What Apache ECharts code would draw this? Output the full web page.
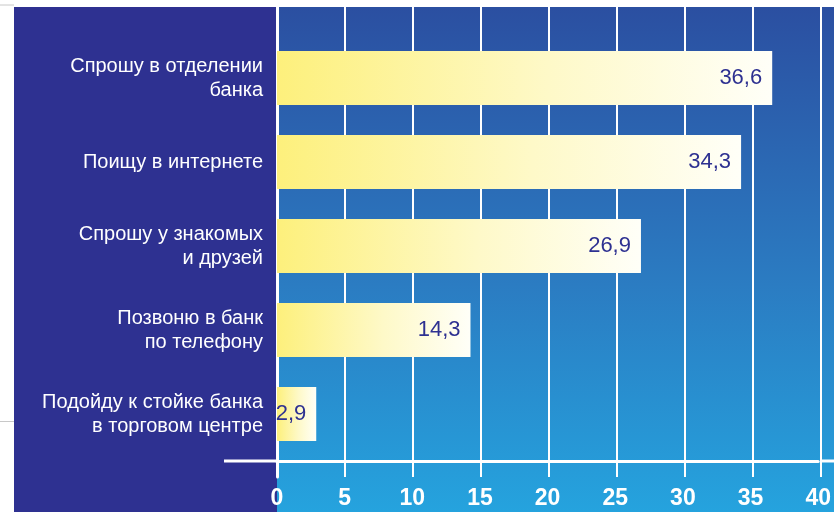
<!DOCTYPE html>
<html>
<head>
<meta charset="utf-8">
<script src="https://cdn.jsdelivr.net/npm/echarts@6/dist/echarts.min.js"></script>
<style>html,body{margin:0;padding:0;background:#fff;}#c{width:834px;height:512px;}</style>
</head>
<body>
<div id="c"></div>
<script>
const categories = [
  'Спрошу в отделении\nбанка',
  'Поищу в интернете',
  'Спрошу у знакомых\nи друзей',
  'Позвоню в банк\nпо телефону',
  'Подойду к стойке банка\nв торговом центре'
];
const values = [36.6, 34.3, 26.9, 14.3, 2.9];
const axisMin = 0, axisMax = 40, axisStep = 5;

const chart = echarts.init(document.getElementById('c'), null, {renderer: 'canvas'});
const font = "'Liberation Sans', Arial, sans-serif";
chart.setOption({
  animation: false,
  backgroundColor: '#ffffff',
  graphic: [
    {type: 'rect', z: -10, shape: {x: 14, y: 7, width: 263, height: 505}, style: {fill: '#2e3191'}},
    {type: 'rect', z: -10, shape: {x: 277, y: 7, width: 557, height: 505},
      style: {fill: new echarts.graphic.LinearGradient(0, 0, 0, 1, [
        {offset: 0, color: '#2b4fa1'},
        {offset: 0.55, color: '#2b7cc2'},
        {offset: 1, color: '#25a3de'}
      ])}},
    {type: 'line', z: -5, shape: {x1: 0, y1: 5, x2: 14, y2: 5}, style: {stroke: '#c8c8c8', lineWidth: 1}},
    {type: 'line', z: -5, shape: {x1: 0, y1: 421.5, x2: 14, y2: 421.5}, style: {stroke: '#c8c8c8', lineWidth: 1}},
    {type: 'line', z: 5, shape: {x1: 224, y1: 461, x2: 277, y2: 461}, style: {stroke: '#ffffff', lineWidth: 3}},
    {type: 'line', z: 5, shape: {x1: 821, y1: 461, x2: 834, y2: 461}, style: {stroke: '#ffffff', lineWidth: 3}}
  ],
  grid: [
    {left: 277, right: 13, top: 36, height: 420},
    {left: 277, right: 13, top: 7, height: 470}
  ],
  xAxis: [
    {
      type: 'value', gridIndex: 0, min: axisMin, max: axisMax, interval: axisStep,
      offset: 5,
      axisLine: {show: true, lineStyle: {color: '#ffffff', width: 3}},
      axisTick: {show: false},
      splitLine: {show: false},
      axisLabel: {color: '#ffffff', fontSize: 23, fontWeight: 'bold', fontFamily: "'Liberation Sans Narrow', " + font, margin: 26}
    },
    {
      type: 'value', gridIndex: 1, min: axisMin, max: axisMax, interval: axisStep,
      axisLine: {show: false}, axisTick: {show: false}, axisLabel: {show: false},
      splitLine: {show: true, lineStyle: {color: '#ffffff', width: 2}}
    }
  ],
  yAxis: [
    {
      type: 'category', gridIndex: 0, data: categories, inverse: true,
      axisLine: {show: false}, axisTick: {show: false},
      axisLabel: {color: '#ffffff', fontSize: 20, lineHeight: 24, fontFamily: font, margin: 14, align: 'right'}
    },
    {
      type: 'value', gridIndex: 1, min: 0, max: 1,
      axisLine: {show: true, lineStyle: {color: '#ffffff', width: 3}},
      axisTick: {show: false}, axisLabel: {show: false}, splitLine: {show: false}
    }
  ],
  series: [{
    type: 'bar', xAxisIndex: 0, yAxisIndex: 0, data: values, barWidth: 54, z: 3,
    itemStyle: {
      color: new echarts.graphic.LinearGradient(0, 0, 1, 0, [
        {offset: 0, color: '#fdf07c'},
        {offset: 0.55, color: '#fef9c8'},
        {offset: 1, color: '#fffff8'}
      ])
    },
    label: {
      show: true, position: 'insideRight', distance: 10,
      color: '#2e3191', fontSize: 22, fontFamily: font,
      formatter: p => String(p.value).replace('.', ',')
    }
  }]
});
</script>
</body>
</html>
